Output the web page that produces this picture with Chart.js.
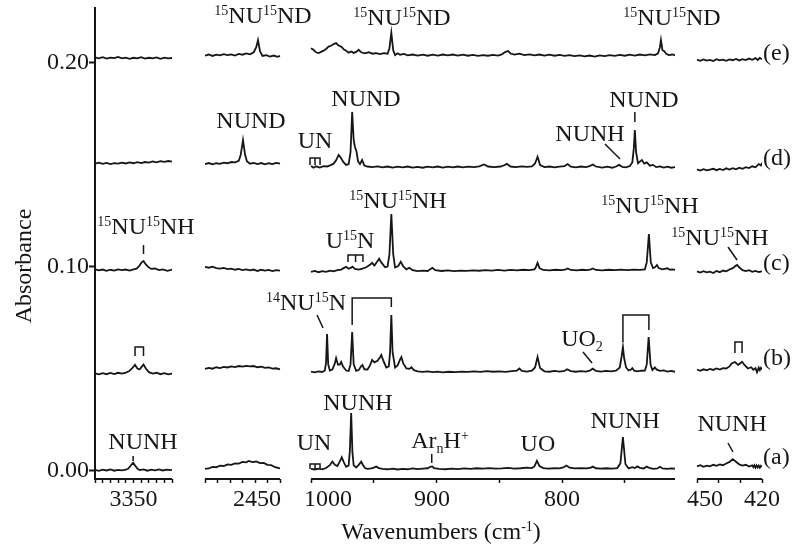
<!DOCTYPE html>
<html>
<head>
<meta charset="utf-8">
<title>IR spectra of NUNH isotopologues</title>
<script src="https://cdn.jsdelivr.net/npm/chart.js@4.4.1/dist/chart.umd.min.js"></script>
<style>
  html, body { margin: 0; padding: 0; background: #fff; }
  #wrap { width: 792px; height: 550px; }
</style>
</head>
<body>
<div id="wrap"><canvas id="spectra" width="792" height="550"></canvas></div>
<script>
// trace tags and vertical offsets of the five traces (mA)
const traceTags = ['(a)', '(b)', '(c)', '(d)', '(e)'];
const traceOffsets = [0, 48, 98, 150, 200];

// the four pieces of the broken wavenumber axis (cm-1)
const ranges = [[3400, 3300], [2500, 2440], [1000, 710], [450, 420]];
const tickMarks = [
  [3400, 3390, 3380, 3370, 3360, 3350, 3340, 3330, 3320, 3310, 3300],
  [2500, 2490, 2480, 2470, 2460, 2450, 2440],
  [1000, 950, 900, 850, 800, 750],
  [450, 440, 430, 420]
];
// [piece, wavenumber where the label sits, text]
const tickLabels = [[0, 3350, '3350'], [1, 2458.4, '2450'], [2, 986.5, '1000'], [2, 903.6, '900'], [2, 800, '800'], [3, 446.3, '450'], [3, 420, '420']];
const yTickValues = [0, 0.1, 0.2];

// ---- trace data: [wavenumber, absorbance in mA above the trace offset] ----
// (a) NUNH
const aNH = [[3400,0.3],[3395,-0.2],[3390,0.4],[3385,0],[3380,0.5],[3375,-0.1],[3370,0.3],[3365,0.1],[3360,0.4],[3357,0.8],[3354,2.2],[3350.5,3.8],[3348,2.4],[3345,0.9],[3342,0.2],[3337,0.5],[3332,-0.1],[3327,0.4],[3322,0.1],[3317,0.5],[3312,0],[3307,0.4],[3300,0.2]];
const aND = [[2500,0.8],[2497,1.0],[2494,1.8],[2491,1.6],[2488,2.4],[2485,2.2],[2482,3.0],[2479,2.8],[2476,3.5],[2473,3.4],[2470,4.2],[2467,4.0],[2465,4.7],[2462,4.1],[2459,4.4],[2456,3.6],[2453,3.7],[2450,2.8],[2447,2.6],[2444,1.6],[2440,1.0]];
const aFp = [[1000,0.8],[997,0.5],[994,0.9],[991,0.6],[988,1.2],[985,2.6],[983,4.4],[981,2.8],[979,2.2],[977,4.5],[975.5,6.5],[974,4.2],[972,1.8],[970,2.5],[969,10],[968,28.2],[967,9],[966,2.5],[964,1.5],[962,2.8],[960,4.3],[958.5,2.6],[957,1.2],[955,0.8],[952,1.0],[950,1.4],[948,1.9],[946,1.2],[943,0.8],[939,0.6],[935,0.9],[931,0.5],[927,0.8],[923,0.6],[919,1.0],[915,0.7],[911,0.9],[907,1.1],[905,1.8],[903.5,2.0],[902,1.2],[898,0.8],[893,0.6],[888,0.9],[883,0.7],[878,1.0],[873,0.8],[868,1.1],[863,0.9],[858,1.2],[853,0.9],[848,1.0],[843,1.3],[838,0.9],[833,1.1],[828,1.4],[824,1.2],[822,2.0],[820,4.7],[818,2.2],[815,1.2],[811,0.9],[806,1.1],[802,1.0],[799,1.5],[796.5,2.4],[794,1.4],[790,1.0],[785,1.2],[780,1.0],[777,1.4],[775.5,1.9],[773,1.1],[769,0.9],[765,1.1],[760,0.9],[756,1.2],[753.5,3.5],[751.5,16.4],[749.5,3.2],[747,1.0],[744,1.6],[742,1.2],[740,2.0],[738,1.3],[735,1.0],[732.5,1.9],[730,1.1],[727,0.8],[724,1.0],[722,1.8],[720,1.0],[716,0.8],[713,1.0],[710,0.9]];
const aLow = [[450,2.0],[448.5,2.6],[447,1.8],[445.5,2.4],[444,2.0],[442.5,2.8],[441,2.3],[439.5,3.0],[438,2.6],[436.5,3.4],[435,4.2],[433.5,5.6],[432,4.3],[430.5,3.0],[429,2.4],[427.5,2.8],[426,1.9],[424.5,2.5],[424,1.6],[423.5,2.6],[423,1.4],[422.5,2.5],[422,1.5],[421.5,2.4],[421,1.4],[420.5,2.3],[420,1.7]];

// (b) 14N/15N mixture
const bNH = [[3400,-0.4],[3395,-0.9],[3390,-0.3],[3385,-0.8],[3380,-0.2],[3375,-0.7],[3370,-0.1],[3365,-0.5],[3360,0],[3356,0.6],[3352,2.0],[3348,3.8],[3345,2.0],[3342,1.5],[3339.5,2.8],[3337,3.9],[3334,2.0],[3330,0.2],[3325,-0.5],[3320,-0.1],[3315,-0.8],[3310,-0.3],[3305,-0.9],[3300,-0.5]];
const bND = [[2500,1.8],[2497,2.3],[2494,1.9],[2491,2.6],[2488,2.2],[2485,2.8],[2482,2.5],[2479,3.0],[2476,2.7],[2473,3.2],[2470,2.9],[2467,3.3],[2464,3.0],[2461,3.2],[2458,2.6],[2455,2.9],[2452,2.3],[2449,2.5],[2446,1.9],[2443,2.1],[2440,1.6]];
const bFp = [[1000,0.5],[997,0.1],[994,0.6],[991,0.3],[989,1.0],[988,5],[987.2,18.9],[986.3,4],[985,1.0],[983,1.5],[981,4.5],[980,7.1],[978.5,3.8],[977,4.0],[976,5.2],[974.5,3.0],[972,1.0],[970,0.8],[968.5,4],[967.2,19.9],[966,4],[964,0.8],[962,1.2],[960,3.2],[959,3.7],[957.5,1.6],[955,1.5],[953,3.5],[951.3,6.2],[949.5,5.0],[947,5.8],[945,7.5],[944,8.6],[942.5,6.0],[940,2.5],[938,3],[937,10],[936,28.2],[935,10],[933,2.5],[931,3.5],[929,6.5],[928,7.6],[926.5,4.5],[924,2.0],[921.5,1.8],[920,2.6],[918,1.2],[915,0.6],[911,0.3],[907,0.6],[903,0.2],[899,0.5],[895,0.1],[890,0.4],[885,0.2],[880,0.5],[875,0.3],[870,0.6],[865,0.3],[860,0.7],[855,0.4],[850,0.6],[845,0.3],[840,0.7],[836,0.9],[834,2.0],[832,0.8],[828,0.5],[824,0.9],[821.5,2.5],[819.5,7.6],[817.5,2.2],[814,0.6],[810,0.4],[806,0.8],[802,0.5],[798,0.8],[796,1.6],[793,0.7],[789,0.4],[785,0.7],[781,0.5],[778,0.9],[775.5,1.9],[773,0.8],[769,0.5],[765,0.8],[761,0.6],[757,0.9],[754,2.5],[752.5,8],[751.5,12.5],[750.5,7],[749,2.5],[747,1.0],[745,1.5],[744,2.2],[742.5,0.9],[740,0.6],[737,0.9],[734,1.0],[732.5,4],[731,17.4],[729.5,4],[728,1.2],[726,2.5],[724.5,1.4],[722,0.8],[719,1.1],[716,0.5],[713,0.8],[710,0.4]];
const bLow = [[450,1.5],[448.5,0.9],[447,1.6],[445.5,1.1],[444,1.8],[442.5,1.3],[441,2.0],[439.5,1.5],[438,2.2],[436.5,2.0],[435,3.0],[434,4.5],[432.5,5.2],[431,3.8],[430,4.6],[429.2,5.3],[428,3.6],[426.5,2.0],[425,2.6],[424,1.4],[423,2.2],[422.3,0.2],[421.5,2.4],[421,1.2],[420.5,2.3],[420,1.5]];

// (c) 15N
const cNH = [[3400,0.6],[3395,0.1],[3390,0.5],[3385,-0.1],[3380,0.4],[3375,0],[3370,0.6],[3365,0.2],[3360,0.5],[3355,0],[3350,0.6],[3346,0.9],[3343,2.0],[3339.5,4.0],[3337,4.7],[3334,3.0],[3331,1.8],[3327,0.8],[3322,1.0],[3317,0.2],[3312,0.6],[3306,-0.1],[3300,0.4]];
const cND = [[2500,1.8],[2497,1.4],[2494,1.9],[2491,1.2],[2488,1.0],[2485,1.3],[2482,0.7],[2479,0.9],[2476,0.4],[2473,0.8],[2470,0.2],[2467,0.6],[2464,0.1],[2461,0.5],[2458,-0.2],[2455,0.4],[2452,0],[2449,0.3],[2446,-0.3],[2443,0.2],[2440,0]];
const cFp = [[1000,-0.6],[997,-0.2],[994,-0.8],[991,-0.3],[988,-0.6],[985,0],[982,-0.4],[979,0.2],[976,0.5],[974,1.2],[972,1.8],[970,0.9],[968,1.4],[967,1.9],[965,0.8],[962,0.5],[959,1.0],[956,1.6],[953,2.8],[951.3,3.8],[949.5,2.5],[947.5,4.2],[945.7,5.8],[944,4.0],[941,1.6],[939,2.0],[937.5,8],[936,27.7],[934.5,8],[933,1.5],[930.5,2.2],[928.5,4.3],[926.5,2.0],[924,0.6],[921.7,1.4],[919,0.2],[915,-0.3],[911,0],[907,-0.2],[905,0.7],[903.3,1.3],[901,0.2],[896,-0.2],[891,0.1],[886,-0.3],[881,0],[876,-0.2],[871,0.1],[866,-0.1],[861,0.2],[856,0],[851,0.3],[846,0],[841,0.3],[836,0.1],[831,0.4],[826,0.2],[822,0.6],[821,1.5],[819.5,3.8],[818,1.2],[815,0.3],[810,0.1],[805,0.4],[800,0.2],[797,0.6],[795.5,1.0],[793,0.3],[788,0.1],[784,0.4],[780,0.2],[777,0.6],[775.5,1.0],[773,0.3],[768,0.1],[763,0.4],[758,0.2],[753,0.5],[748,0.2],[743,0.5],[738,0.3],[734,0.6],[732.5,4],[730.8,17.9],[729.3,4],[727.5,1.2],[726,1.6],[724.4,2.7],[723,1.2],[720,0.6],[717.5,0.9],[716,1.1],[714,0.4],[712,0.6],[710,0.3]];
const cLow = [[450,-0.4],[448.5,-1.0],[447,-0.3],[445.5,-0.9],[444,-0.5],[442.5,-1.2],[441,-0.2],[439.5,-0.8],[438,0],[436.5,-0.4],[435,0.5],[433.5,1.2],[432.3,2.2],[431.5,2.8],[430.5,1.6],[429,0.2],[427.5,-0.3],[426,0.2],[424.5,-0.6],[423,-0.2],[421.5,-0.7],[420,-0.4]];

// (d) NUND
const dNH = [[3400,0.4],[3395,0.9],[3390,0.3],[3385,0.8],[3380,0.2],[3375,0.7],[3370,0.4],[3365,0.9],[3360,0.5],[3355,1.0],[3350,0.6],[3345,1.1],[3340,0.7],[3335,1.2],[3330,0.9],[3325,1.5],[3320,1.0],[3315,1.6],[3310,1.3],[3305,1.7],[3300,1.4]];
const dND = [[2500,0.2],[2497,0.7],[2494,0.1],[2491,0.6],[2488,0.3],[2485,0.9],[2482,0.6],[2479,1.2],[2476,1.0],[2473,1.8],[2471.5,4.5],[2469.6,11.9],[2468,5],[2466.5,1.6],[2464,0.4],[2461,0.8],[2458,0.2],[2455,0.7],[2452,0.1],[2449,0.6],[2446,0.2],[2443,0.8],[2440,0.4]];
const dFp = [[1000,-0.8],[998,-1.6],[996,-0.9],[993,-1.5],[990,-0.8],[987,-1.0],[984,-0.2],[982,0.4],[980,2.0],[978,4.7],[976.5,3.5],[974,1.0],[972,-0.2],[970,0.2],[968.5,6],[967.2,25.7],[966,12],[965,8.6],[963.8,6.5],[962.5,1.5],[961,0.2],[959.3,2.2],[957.5,-0.5],[955,-1.0],[951,-1.3],[947,-0.9],[943,-1.4],[939,-1.0],[935,-1.5],[931,-1.1],[927,-1.4],[923,-1.0],[919,-1.5],[915,-1.2],[911,-1.6],[907,-1.1],[903,-1.4],[899,-1.0],[895,-1.5],[891,-1.1],[887,-1.4],[883,-1.0],[879,-1.4],[875,-1.1],[870,-1.3],[866,-0.9],[862,0],[859,-1.0],[854,-1.3],[849,-1.0],[846,-0.4],[844,0.3],[841,-1.0],[837,-1.3],[832,-0.9],[828,-1.2],[824,-0.9],[821.5,0.5],[819.5,3.8],[817.5,-0.3],[814,-1.3],[810,-1.0],[806,-1.4],[802,-1.1],[798,-0.8],[795.5,0.2],[793,-1.1],[789,-1.4],[785,-1.0],[781,-1.3],[778,-0.8],[775.5,0],[773,-1.0],[768,-1.5],[764,-1.1],[760,-1.6],[757,-1.0],[754.5,-0.2],[752,-1.2],[749,-1.4],[746,-0.8],[744,1.0],[742.8,8],[742,16.9],[741,6],[739.5,0.6],[738,1.4],[736.4,2.2],[734.5,0.4],[732.5,1.0],[730,-0.6],[727.5,-0.2],[725,-1.3],[722,-0.9],[719,-1.5],[716,-1.1],[713,-1.6],[710,-1.3]];
const dLow = [[450,-2.4],[448.5,-3.0],[447,-2.3],[445.5,-2.9],[444,-2.5],[442.5,-2.1],[441,-2.8],[439.5,-2.2],[438,-2.7],[436.5,-1.9],[435,-2.5],[433.5,-1.8],[432,-2.4],[430.5,-1.6],[429,-2.1],[427.5,-1.3],[426,-1.8],[424.5,-0.9],[423,-1.4],[421.5,0.2],[420.5,-0.5],[420,0.8]];

// (e) 15NU15ND
const eNH = [[3400,2.5],[3395,2.0],[3390,2.6],[3385,1.9],[3380,2.4],[3375,2.1],[3370,2.7],[3365,2.0],[3360,2.4],[3355,1.8],[3350,2.3],[3345,2.0],[3340,2.6],[3335,1.9],[3330,2.3],[3325,2.0],[3320,2.5],[3315,1.8],[3310,2.4],[3305,2.0],[3300,2.2]];
const eND = [[2500,3.4],[2497,3.9],[2494,3.2],[2491,3.8],[2488,3.5],[2485,4.1],[2482,3.6],[2479,4.0],[2476,3.4],[2473,4.2],[2470,3.8],[2467,4.4],[2464,4.0],[2461,5.0],[2459,7.5],[2457.6,11.0],[2456,5.5],[2454,3.2],[2451,3.6],[2448,2.9],[2445,3.4],[2442,2.8],[2440,3.2]];
const eFp = [[1000,7.0],[998,6.2],[996,5.0],[994,4.6],[992,5.2],[990,5.8],[988,6.6],[986,7.8],[984,8.2],[982,9.0],[980,9.5],[978.5,8.6],[977,8.0],[975.5,7.6],[974,6.5],[972,5.8],[970,4.8],[968,5.4],[966,4.7],[964,5.2],[962,6.2],[960,5.0],[957,4.5],[954,5.0],[951,4.3],[948,4.6],[945,4.1],[942,4.6],[939,4.3],[937.5,7],[936,14.5],[934.5,6],[933,3.6],[931,4.5],[929,3.8],[926,4.2],[923,3.5],[919,3.9],[915,3.4],[911,3.8],[907,3.3],[903,3.8],[899,3.4],[895,3.9],[891,3.5],[887,3.9],[883,3.4],[879,3.8],[875,3.3],[871,3.7],[867,3.2],[863,3.6],[859,3.3],[855,3.7],[851,3.4],[848,4.0],[845,5.2],[843,5.6],[841,4.4],[838,3.9],[834,4.3],[830,3.6],[826,4.0],[822,3.5],[818,3.9],[814,3.4],[810,3.8],[806,3.3],[802,3.7],[798,3.2],[794,3.6],[790,3.1],[786,3.5],[782,3.0],[778,3.4],[774,2.9],[770,3.5],[766,3.1],[762,3.6],[758,3.2],[754,3.7],[750,3.3],[746,3.8],[742,3.4],[738,3.9],[734,3.5],[730,4.0],[726,3.6],[723.5,4.5],[722,7.5],[721.2,11.0],[720,6],[718.5,5.5],[717,4.2],[715,3.6],[712,3.9],[710,3.5]];
const eLow = [[450,1.4],[448.5,0.8],[447,1.5],[445.5,0.9],[444,1.3],[442.5,0.7],[441,1.6],[439.5,1.0],[438,1.4],[436.5,0.8],[435,1.5],[433.5,1.1],[432,1.7],[430.5,1.0],[429,1.6],[427.5,1.2],[426,1.9],[424.5,1.3],[423,2.1],[422,1.2],[421,2.2],[420,1.6]];

const spectra = [
  [aNH, aND, aFp, aLow],
  [bNH, bND, bFp, bLow],
  [cNH, cND, cFp, cLow],
  [dNH, dND, dFp, dLow],
  [eNH, eND, eFp, eLow]
];

// ---- band labels: [piece, wavenumber, absorbance, text] ----
const bandLabels = [
  [0, 3337.7, 0.01446, 'NUNH'],
  [2, 997.6, 0.01397, 'UN'],
  [2, 962.6, 0.03358, 'NUNH'],
  [2, 897.2, 0.01495, 'Ar_{n}H^{+}'],
  [2, 819.2, 0.01348, 'UO'],
  [2, 749.8, 0.02475, 'NUNH'],
  [3, 433.8, 0.02328, 'NUNH'],
  [2, 1004, 0.0826, '^{14}NU^{15}N'],
  [2, 784.1, 0.06495, 'UO_{2}'],
  [0, 3333.8, 0.11985, '^{15}NU^{15}NH'],
  [2, 968.9, 0.11299, 'U^{15}N'],
  [2, 930.7, 0.1326, '^{15}NU^{15}NH'],
  [2, 729.9, 0.13015, '^{15}NU^{15}NH'],
  [3, 439.4, 0.11446, '^{15}NU^{15}NH'],
  [1, 2463.2, 0.17181, 'NUND'],
  [2, 996.8, 0.16201, 'UN'],
  [2, 956.2, 0.1826, 'NUND'],
  [2, 777.7, 0.16544, 'NUNH'],
  [2, 734.7, 0.18211, 'NUND'],
  [1, 2453.6, 0.22328, '^{15}NU^{15}ND'],
  [2, 927.5, 0.2223, '^{15}NU^{15}ND'],
  [2, 712.4, 0.2223, '^{15}NU^{15}ND']
];
const tagLevels = [0.0071, 0.0556, 0.1022, 0.1537, 0.2052];

// ---- ticks, brackets and leader lines: [piece, [[wavenumber, absorbance], ...]] ----
const marks = [
  [0, [[3350.5, 0.0071], [3350.5, 0.0047]]],
  [2, [[1000.8, 0.0007], [1000.8, 0.0032], [992.8, 0.0032], [992.8, 0.0007]]],
  [2, [[996.8, 0.0032], [996.8, 0.0007]]],
  [2, [[903.8, 0.0081], [903.8, 0.0037]]],
  [3, [[435.7, 0.01348], [433.4, 0.00907]]],
  [0, [[3348, 0.0561], [3348, 0.0605], [3337, 0.0605], [3337, 0.0561]]],
  [2, [[995.2, 0.07623], [990.4, 0.06985]]],
  [2, [[967.2, 0.0713], [967.2, 0.0846], [936, 0.0846], [936, 0.0801]]],
  [2, [[783.3, 0.05809], [776.1, 0.0527]]],
  [2, [[751.5, 0.063], [751.5, 0.0762], [730.8, 0.0762], [730.8, 0.0689]]],
  [3, [[432.5, 0.0576], [432.5, 0.063], [429.2, 0.063], [429.2, 0.0576]]],
  [0, [[3337, 0.1105], [3337, 0.1061]]],
  [2, [[970.5, 0.1022], [970.5, 0.1056], [958.6, 0.1056], [958.6, 0.1022]]],
  [2, [[964.5, 0.1056], [964.5, 0.1022]]],
  [3, [[435.7, 0.10956], [431.5, 0.10319]]],
  [2, [[1000.8, 0.1497], [1000.8, 0.1532], [992.8, 0.1532], [992.8, 0.1497]]],
  [2, [[996.8, 0.1532], [996.8, 0.1497]]],
  [2, [[765.8, 0.16005], [753.8, 0.1527]]],
  [2, [[742, 0.17574], [742, 0.17083]]]
];

// ---- layout of the broken axis (virtual x units = pixels from the y axis) ----
const pieceSpan = [[0, 77], [110, 185], [216, 580], [602, 667]];
const FONT = '"Liberation Serif", "Times New Roman", serif';
const INK = '#161616';

function toV(piece, wn) {
  const [from, to] = ranges[piece];
  const [v0, v1] = pieceSpan[piece];
  return v0 + (from - wn) / (from - to) * (v1 - v0);
}

// text with ^{sup} and _{sub} parts, (cx, cy) = centre of the capitals
function richText(ctx, str, cx, cy, align) {
  const parts = [];
  const re = /\^\{([^}]*)\}|_\{([^}]*)\}|([^\^_]+)/g;
  let m;
  while ((m = re.exec(str))) {
    if (m[1] !== undefined) parts.push({ t: m[1], k: 'sup' });
    else if (m[2] !== undefined) parts.push({ t: m[2], k: 'sub' });
    else parts.push({ t: m[3], k: 'n' });
  }
  let w = 0;
  parts.forEach(p => {
    ctx.font = (p.k === 'n' ? '24px ' : '14px ') + FONT;
    p.w = ctx.measureText(p.t).width;
    w += p.w;
  });
  let x = align === 'left' ? cx : cx - w / 2;
  const base = cy + 8;
  ctx.textBaseline = 'alphabetic';
  ctx.textAlign = 'left';
  parts.forEach(p => {
    ctx.font = (p.k === 'n' ? '24px ' : '14px ') + FONT;
    const dy = p.k === 'sup' ? -8 : p.k === 'sub' ? 5 : 0;
    ctx.fillText(p.t, x, base + dy);
    x += p.w;
  });
}

// x ticks: marks without text, labels without marks
const xTicks = [];
tickMarks.forEach((list, p) => list.forEach(wn => xTicks.push({ value: toV(p, wn), text: '', mark: true })));
tickLabels.forEach(([p, wn, text]) => {
  const v = toV(p, wn);
  const same = xTicks.find(t => Math.abs(t.value - v) < 0.05);
  if (same) same.text = text;
  else xTicks.push({ value: v, text, mark: false });
});
xTicks.sort((a, b) => a.value - b.value);

const datasets = [];
spectra.forEach((pieces, s) => {
  pieces.forEach((pts, p) => {
    datasets.push({
      label: traceTags[s] + ' piece ' + (p + 1),
      data: pts.map(([wn, m]) => ({ x: toV(p, wn), y: (traceOffsets[s] + m) / 1000 })),
      borderColor: INK,
      borderWidth: 1.8,
      pointRadius: 0,
      tension: 0,
      fill: false
    });
  });
});

const overlay = {
  id: 'overlay',
  afterDraw(chart) {
    const { ctx, scales: { x, y } } = chart;
    const X = (p, wn) => x.getPixelForValue(toV(p, wn));
    const Y = a => y.getPixelForValue(a);
    ctx.save();
    ctx.strokeStyle = INK;
    ctx.fillStyle = INK;

    // broken x axis line
    ctx.lineWidth = 2;
    ranges.forEach((r, p) => {
      ctx.beginPath();
      ctx.moveTo(X(p, r[0]), x.top);
      ctx.lineTo(X(p, r[1]), x.top);
      ctx.stroke();
    });

    // brackets, ticks and leaders
    ctx.lineWidth = 1.5;
    marks.forEach(([p, pts]) => {
      ctx.beginPath();
      pts.forEach(([wn, a], i) => {
        if (i === 0) ctx.moveTo(X(p, wn), Y(a));
        else ctx.lineTo(X(p, wn), Y(a));
      });
      ctx.stroke();
    });

    bandLabels.forEach(([p, wn, a, t]) => richText(ctx, t, X(p, wn), Y(a), 'center'));
    traceTags.forEach((t, s) => richText(ctx, t, X(3, 419.5), Y(tagLevels[s]), 'left'));

    richText(ctx, 'Wavenumbers (cm^{-1})', 441, 531, 'center');
    ctx.translate(23, 266);
    ctx.rotate(-Math.PI / 2);
    richText(ctx, 'Absorbance', 0, 0, 'center');
    ctx.restore();
  }
};

new Chart(document.getElementById('spectra'), {
  type: 'line',
  data: { datasets },
  plugins: [overlay],
  options: {
    responsive: false,
    animation: false,
    devicePixelRatio: 1,
    layout: { padding: { top: 8, right: 30, bottom: 0, left: 0 } },
    plugins: { legend: { display: false }, tooltip: { enabled: false } },
    scales: {
      x: {
        type: 'linear',
        min: 0,
        max: 667,
        afterBuildTicks: sc => { sc.ticks = xTicks.map(t => ({ ...t })); },
        afterFit: sc => { sc.height = 71; sc.paddingLeft = 0; sc.paddingRight = 0; },
        border: { display: false },
        grid: {
          drawOnChartArea: false,
          drawTicks: true,
          tickLength: 4,
          tickWidth: 1.5,
          tickColor: c => (c.tick && c.tick.mark) ? INK : 'rgba(0,0,0,0)'
        },
        ticks: {
          autoSkip: false,
          maxRotation: 0,
          minRotation: 0,
          padding: 2,
          color: INK,
          font: { size: 24, family: FONT },
          callback: (v, i, ticks) => ticks[i].text
        }
      },
      y: {
        type: 'linear',
        min: -0.00417,
        max: 0.2267,
        afterBuildTicks: sc => { sc.ticks = yTickValues.map(v => ({ value: v })); },
        // keep the plot area fixed: no extra room for half tick labels
        afterFit: sc => { sc.width = 95; sc.paddingTop = 0; sc.paddingBottom = 0; },
        border: { display: true, color: INK, width: 2 },
        grid: { drawOnChartArea: false, tickLength: 6, tickWidth: 2, tickColor: INK },
        ticks: {
          padding: 0,
          color: INK,
          font: { size: 24, family: FONT },
          callback: v => v.toFixed(2)
        }
      }
    }
  }
});
</script>
</body>
</html>
